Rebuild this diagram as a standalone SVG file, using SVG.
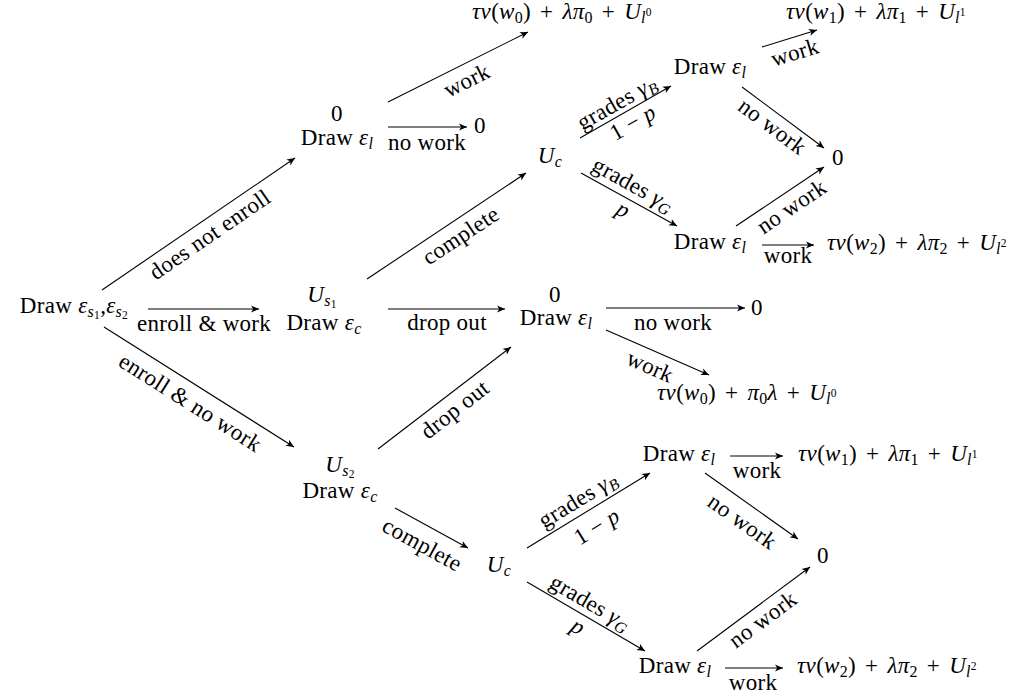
<svg xmlns="http://www.w3.org/2000/svg" width="1026" height="700" viewBox="0 0 1026 700">
<style>
.t{font-family:"Liberation Serif","Times New Roman",serif;font-size:23px;letter-spacing:0.3px;fill:#000}
.i{font-style:italic}
.s{font-size:16px}
.ss{font-size:11.5px}
.m{word-spacing:3px}
.e line{stroke:#000;stroke-width:1.1;fill:none;marker-end:url(#ah)}
</style>
<defs>
<marker id="ah" viewBox="-9 -5 10 10" refX="0" refY="0" markerWidth="10" markerHeight="10" orient="auto" markerUnits="userSpaceOnUse"><path d="M0,0 L-8,-3.6 L-5.8,0 L-8,3.6 Z" fill="#000"/></marker>
</defs>
<rect width="1026" height="700" fill="#fff"/>

<g id="connectors" class="e">
<line x1="102" y1="290" x2="295" y2="158"/>
<line x1="148" y1="309" x2="259" y2="309"/>
<line x1="104" y1="327" x2="294" y2="447"/>
<line x1="388" y1="102" x2="528" y2="32"/>
<line x1="388" y1="127" x2="467" y2="127"/>
<line x1="367" y1="279" x2="526" y2="173"/>
<line x1="388" y1="309" x2="505" y2="309"/>
<line x1="378" y1="449" x2="511" y2="347"/>
<line x1="606" y1="308" x2="745" y2="308"/>
<line x1="606" y1="330" x2="709" y2="375"/>
<line x1="580" y1="138" x2="671" y2="86"/>
<line x1="581" y1="173" x2="677" y2="226"/>
<line x1="762" y1="47" x2="817" y2="30"/>
<line x1="742" y1="87" x2="824" y2="148"/>
<line x1="736" y1="226" x2="824" y2="167"/>
<line x1="762" y1="245" x2="814" y2="245"/>
<line x1="395" y1="508" x2="468" y2="548"/>
<line x1="527" y1="548" x2="650" y2="473"/>
<line x1="527" y1="582" x2="645" y2="651"/>
<line x1="730" y1="456" x2="783" y2="456"/>
<line x1="705" y1="473" x2="798" y2="539"/>
<line x1="697" y1="651" x2="810" y2="567"/>
<line x1="725" y1="668" x2="783" y2="668"/>
</g>

<g id="edge-labels" class="t" text-anchor="middle">
<text transform="translate(210,235) rotate(-34.4)" y="7">does not enroll</text>
<text x="204" y="331">enroll &amp; work</text>
<text transform="translate(190,403) rotate(32.3)" y="7">enroll &amp; no work</text>
<text transform="translate(467,81) rotate(-26.6)" y="7">work</text>
<text x="427" y="150">no work</text>
<text transform="translate(461,236) rotate(-33.6)" y="7">complete</text>
<text x="447" y="330">drop out</text>
<text transform="translate(455,410) rotate(-38)" y="7">drop out</text>
<text x="673" y="330">no work</text>
<text transform="translate(650,367) rotate(23.6)" y="7">work</text>
<text transform="translate(617,103) rotate(-29.7)" y="7">grades <tspan class="i">γ</tspan><tspan class="s i" dy="4">B</tspan></text>
<text transform="translate(633,123) rotate(-29.7)" y="7">1 − <tspan class="i">p</tspan></text>
<text transform="translate(633,185) rotate(28.9)" y="7">grades <tspan class="i">γ</tspan><tspan class="s i" dy="4">G</tspan></text>
<text transform="translate(623,210) rotate(28.9)" y="7"><tspan class="i">p</tspan></text>
<text transform="translate(795,53) rotate(-17)" y="7">work</text>
<text transform="translate(772,127) rotate(36.6)" y="7">no work</text>
<text transform="translate(792,207) rotate(-34)" y="7">no work</text>
<text x="788" y="263">work</text>
<text transform="translate(422,545) rotate(28.7)" y="7">complete</text>
<text transform="translate(578,500) rotate(-31.4)" y="7">grades <tspan class="i">γ</tspan><tspan class="s i" dy="4">B</tspan></text>
<text transform="translate(597,527) rotate(-31.4)" y="7">1 − <tspan class="i">p</tspan></text>
<text transform="translate(590,603) rotate(30.3)" y="7">grades <tspan class="i">γ</tspan><tspan class="s i" dy="4">G</tspan></text>
<text transform="translate(578,627) rotate(30.3)" y="7"><tspan class="i">p</tspan></text>
<text x="757" y="478">work</text>
<text transform="translate(742,522) rotate(35.4)" y="7">no work</text>
<text transform="translate(763,620) rotate(-36.6)" y="7">no work</text>
<text x="753" y="690">work</text>
</g>

<g id="root" class="t" text-anchor="middle"><text x="74" y="313">Draw <tspan class="i">ε</tspan><tspan class="s i" dy="4">s</tspan><tspan class="ss" dy="2">1</tspan><tspan dy="-6">,</tspan><tspan class="i">ε</tspan><tspan class="s i" dy="4">s</tspan><tspan class="ss" dy="2">2</tspan></text></g>

<g id="notenroll" class="t" text-anchor="middle"><text x="337" y="121">0</text><text x="337" y="145">Draw <tspan class="i">ε</tspan><tspan class="s i" dy="4">l</tspan></text></g>
<g id="notenroll-nowork" class="t" text-anchor="middle"><text x="480" y="133">0</text></g>
<g id="notenroll-work" class="t m" text-anchor="middle"><text x="562" y="19"><tspan class="i">τv</tspan>(<tspan class="i">w</tspan><tspan class="s" dy="4">0</tspan><tspan dy="-4">) + </tspan><tspan class="i">λπ</tspan><tspan class="s" dy="4">0</tspan><tspan dy="-4"> + </tspan><tspan class="i">U</tspan><tspan class="s i" dy="4">l</tspan><tspan class="ss" dy="-7">0</tspan></text></g>

<g id="s1" class="t" text-anchor="middle"><text x="322" y="302"><tspan class="i">U</tspan><tspan class="s i" dy="4">s</tspan><tspan class="ss" dy="2">1</tspan></text><text x="324" y="330">Draw <tspan class="i">ε</tspan><tspan class="s i" dy="4">c</tspan></text></g>

<g id="dropout" class="t" text-anchor="middle"><text x="555" y="302">0</text><text x="556" y="325">Draw <tspan class="i">ε</tspan><tspan class="s i" dy="4">l</tspan></text></g>
<g id="dropout-nowork" class="t" text-anchor="middle"><text x="757" y="315">0</text></g>
<g id="dropout-work" class="t m" text-anchor="middle"><text x="747" y="400"><tspan class="i">τv</tspan>(<tspan class="i">w</tspan><tspan class="s" dy="4">0</tspan><tspan dy="-4">) + </tspan><tspan class="i">π</tspan><tspan class="s" dy="4">0</tspan><tspan class="i" dy="-4">λ</tspan> + <tspan class="i">U</tspan><tspan class="s i" dy="4">l</tspan><tspan class="ss" dy="-7">0</tspan></text></g>

<g id="uc1" class="t" text-anchor="middle"><text x="550" y="163"><tspan class="i">U</tspan><tspan class="s i" dy="4">c</tspan></text></g>
<g id="uc1-bad" class="t" text-anchor="middle"><text x="710" y="74">Draw <tspan class="i">ε</tspan><tspan class="s i" dy="4">l</tspan></text></g>
<g id="uc1-bad-work" class="t m" text-anchor="middle"><text x="876" y="19"><tspan class="i">τv</tspan>(<tspan class="i">w</tspan><tspan class="s" dy="4">1</tspan><tspan dy="-4">) + </tspan><tspan class="i">λπ</tspan><tspan class="s" dy="4">1</tspan><tspan dy="-4"> + </tspan><tspan class="i">U</tspan><tspan class="s i" dy="4">l</tspan><tspan class="ss" dy="-7">1</tspan></text></g>
<g id="uc1-zero" class="t" text-anchor="middle"><text x="838" y="165">0</text></g>
<g id="uc1-good" class="t" text-anchor="middle"><text x="710" y="249">Draw <tspan class="i">ε</tspan><tspan class="s i" dy="4">l</tspan></text></g>
<g id="uc1-good-work" class="t m" text-anchor="middle"><text x="917" y="250"><tspan class="i">τv</tspan>(<tspan class="i">w</tspan><tspan class="s" dy="4">2</tspan><tspan dy="-4">) + </tspan><tspan class="i">λπ</tspan><tspan class="s" dy="4">2</tspan><tspan dy="-4"> + </tspan><tspan class="i">U</tspan><tspan class="s i" dy="4">l</tspan><tspan class="ss" dy="-7">2</tspan></text></g>

<g id="s2" class="t" text-anchor="middle"><text x="340" y="472"><tspan class="i">U</tspan><tspan class="s i" dy="4">s</tspan><tspan class="ss" dy="2">2</tspan></text><text x="340" y="498">Draw <tspan class="i">ε</tspan><tspan class="s i" dy="4">c</tspan></text></g>

<g id="uc2" class="t" text-anchor="middle"><text x="499" y="572"><tspan class="i">U</tspan><tspan class="s i" dy="4">c</tspan></text></g>
<g id="uc2-bad" class="t" text-anchor="middle"><text x="679" y="461">Draw <tspan class="i">ε</tspan><tspan class="s i" dy="4">l</tspan></text></g>
<g id="uc2-bad-work" class="t m" text-anchor="middle"><text x="888" y="461"><tspan class="i">τv</tspan>(<tspan class="i">w</tspan><tspan class="s" dy="4">1</tspan><tspan dy="-4">) + </tspan><tspan class="i">λπ</tspan><tspan class="s" dy="4">1</tspan><tspan dy="-4"> + </tspan><tspan class="i">U</tspan><tspan class="s i" dy="4">l</tspan><tspan class="ss" dy="-7">1</tspan></text></g>
<g id="uc2-zero" class="t" text-anchor="middle"><text x="823" y="563">0</text></g>
<g id="uc2-good" class="t" text-anchor="middle"><text x="675" y="673">Draw <tspan class="i">ε</tspan><tspan class="s i" dy="4">l</tspan></text></g>
<g id="uc2-good-work" class="t m" text-anchor="middle"><text x="887" y="673"><tspan class="i">τv</tspan>(<tspan class="i">w</tspan><tspan class="s" dy="4">2</tspan><tspan dy="-4">) + </tspan><tspan class="i">λπ</tspan><tspan class="s" dy="4">2</tspan><tspan dy="-4"> + </tspan><tspan class="i">U</tspan><tspan class="s i" dy="4">l</tspan><tspan class="ss" dy="-7">2</tspan></text></g>
</svg>
